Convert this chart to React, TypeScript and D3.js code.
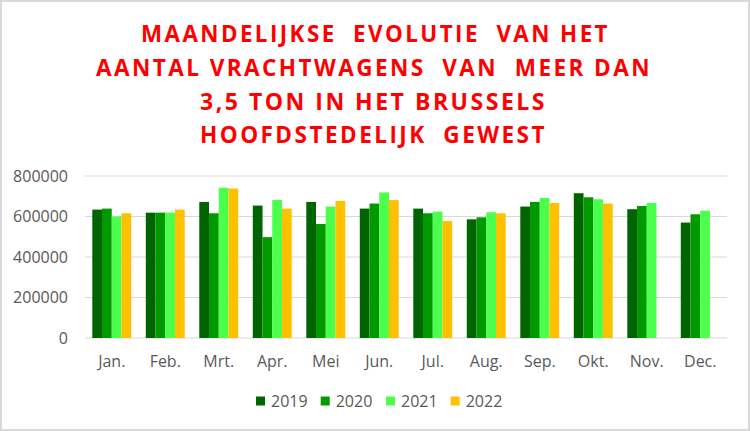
import React from "react";
import * as d3 from "d3";

const months = ["Jan.", "Feb.", "Mrt.", "Apr.", "Mei", "Jun.", "Jul.", "Aug.", "Sep.", "Okt.", "Nov.", "Dec."];
const years = ["2019", "2020", "2021", "2022"];
const colors = ["#006400", "#009900", "#4CFF4C", "#FFC000"];

const v2019 = [634000, 619000, 672000, 654000, 672000, 639000, 639000, 586000, 649000, 715000, 636000, 570000];
const v2020 = [639000, 619000, 616000, 498000, 563000, 664000, 616000, 596000, 672000, 695000, 652000, 611000];
const v2021 = [600000, 619000, 742000, 682000, 649000, 719000, 624000, 621000, 692000, 685000, 667000, 629000];
const v2022: (number | null)[] = [616000, 634000, 738000, 639000, 677000, 681000, 578000, 616000, 667000, 664000, null, null];
const series = [v2019, v2020, v2021, v2022];

const yTicks = [0, 200000, 400000, 600000, 800000];
const titleLines = [
  "MAANDELIJKSE  EVOLUTIE  VAN HET",
  "AANTAL VRACHTWAGENS  VAN  MEER DAN",
  "3,5 TON IN HET BRUSSELS",
  "HOOFDSTEDELIJK  GEWEST",
];

export default function App() {
  const W = 750, H = 431;
  const left = 85, right = 727, top = 176, bottom = 338;
  const x = d3.scaleBand<string>().domain(months).range([left, right]).padding(0);
  const bw = x.bandwidth();
  const barW = bw / 5.5;
  const xs = d3.scaleBand<string>().domain(years).range([barW * 0.75, bw - barW * 0.75]).padding(0);
  const y = d3.scaleLinear().domain([0, 800000]).range([bottom, top]);
  const font = "'Open Sans', 'Liberation Sans', sans-serif";
  const titleX = [[141, 610], [96, 652], [200, 547], [200, 547]];
  const titleY = [42, 75.5, 109.5, 143];
  const legendX = [256, 320.7, 386, 450.7];

  return (
    <svg width={W} height={H} style={{ position: "absolute", left: 0, top: 0, background: "#fff" }} fontFamily={font}>
      <rect x={1} y={1} width={W - 2} height={H - 2} fill="#fff" stroke="#d9d9d9" strokeWidth={2} />
      {titleLines.map((t, i) => (
        <text key={i} x={titleX[i][0]} y={titleY[i]} fill="#FF0000" fontWeight="bold" fontSize={23} letterSpacing={2.5}
          textLength={titleX[i][1] - titleX[i][0]} lengthAdjust="spacingAndGlyphs" style={{ whiteSpace: "pre" }}>{t}</text>
      ))}
      {yTicks.map((t) => (
        <g key={t}>
          <line x1={left} x2={right} y1={y(t)} y2={y(t)} stroke="#d9d9d9" strokeWidth={1.2} />
          <text x={68} y={y(t)} dy="0.35em" textAnchor="end" fontSize={16} fill="#595959">{t}</text>
        </g>
      ))}
      {months.map((m, i) => (
        <g key={m} transform={`translate(${x(m)},0)`}>
          {series.map((s, j) => {
            const v = s[i];
            if (v == null) return null;
            return <rect key={j} x={xs(years[j])} y={y(v)} width={xs.bandwidth()} height={y(0) - y(v)} fill={colors[j]} />;
          })}
          <text x={bw / 2} y={367} textAnchor="middle" fontSize={16} fill="#595959">{m}</text>
        </g>
      ))}
      {years.map((yr, j) => (
        <g key={yr}>
          <rect x={legendX[j]} y={396.5} width={9} height={9} fill={colors[j]} />
          <text x={legendX[j] + 15} y={407} fontSize={16} fill="#595959">{yr}</text>
        </g>
      ))}
    </svg>
  );
}
